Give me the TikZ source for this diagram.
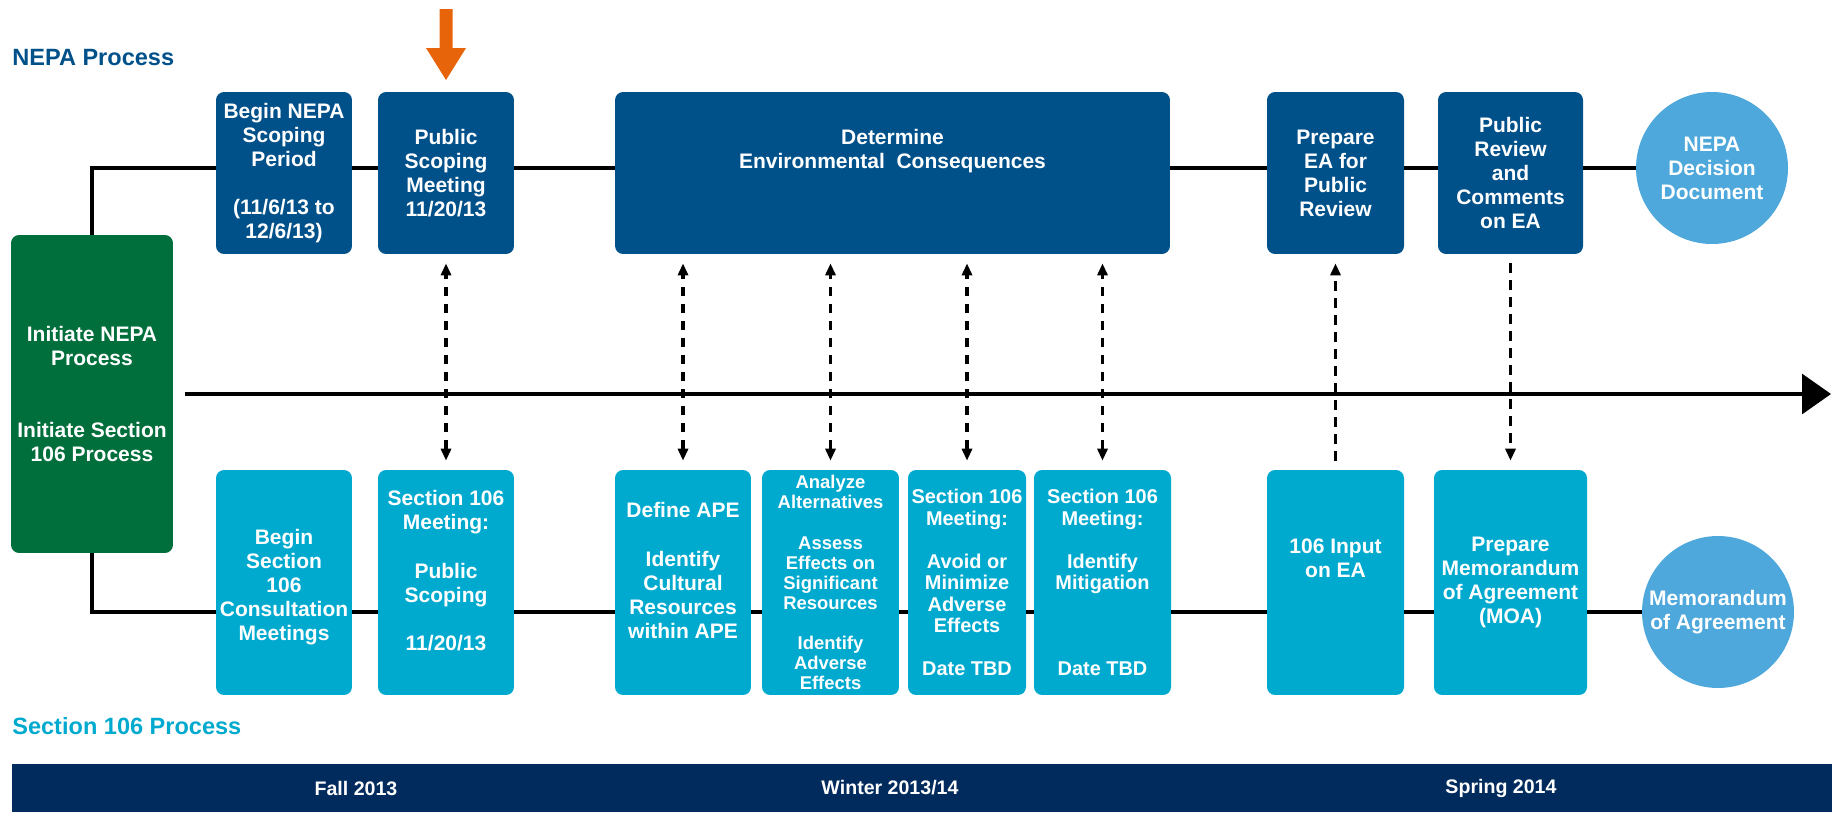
\documentclass[tikz,border=0pt]{standalone}
\usepackage{fontspec}
\setmainfont{Liberation Sans}
\usepackage{tikz}
\usetikzlibrary{arrows.meta}

\definecolor{nepablue}{HTML}{00508A}
\definecolor{sectcyan}{HTML}{00AACF}
\definecolor{endblue}{HTML}{4EA8DC}
\definecolor{initgreen}{HTML}{006F3C}
\definecolor{bardark}{HTML}{002B5C}
\definecolor{markorange}{HTML}{E8640A}

\newcommand{\bxfont}{\bfseries\fontsize{11.95}{13.7}\selectfont}
\newcommand{\bxmid}{\bfseries\fontsize{11.35}{12.2}\selectfont}
\newcommand{\bxsmall}{\bfseries\fontsize{10.5}{11.4}\selectfont}
\newcommand{\hdfont}{\bfseries\fontsize{13.4}{16}\selectfont}
\newcommand{\brfont}{\bfseries\fontsize{11.15}{13}\selectfont}

\tikzset{
  nepabox/.style={fill=nepablue, text=white, rounded corners=0.16cm, align=center,
    inner sep=0pt, minimum height=3.24cm, font=\bxfont},
  sectbox/.style={fill=sectcyan, text=white, rounded corners=0.16cm, align=center,
    inner sep=0pt, minimum height=4.5cm, font=\bxfont},
  endcirc/.style={circle, fill=endblue, text=white, align=center, inner sep=0pt,
    minimum size=3.04cm, font=\bxfont},
  procline/.style={line width=1.8pt},
  linkarrow/.style={line width=2.1pt, dash pattern=on 0.19cm off 0.15cm,
    shorten <=0.18cm, shorten >=0.18cm},
  tip/.tip={Triangle[length=0.24cm, width=0.2cm]}
}

\begin{document}
\begin{tikzpicture}[x=0.02cm, y=-0.02cm]
        \useasboundingbox (0,0) rectangle (1832,812);

        \node[anchor=west, inner sep=0pt, text=nepablue, font=\hdfont] (nepatitle) at (12,58) {NEPA Process};
        \node[anchor=west, inner sep=0pt, text=sectcyan, font=\hdfont] (secttitle) at (12,726) {Section 106 Process};

        % orange marker
        \fill[markorange] (439.5,9) -- (452.5,9) -- (452.5,48) -- (466,48) -- (446,80)
            -- (426,48) -- (439.5,48) -- cycle;

        \node[fill=initgreen, text=white, rounded corners=0.16cm, align=center, inner sep=0pt,
            minimum width=3.24cm, minimum height=6.36cm, font=\bxfont] (initbox) at (92,394)
            {Initiate NEPA\\Process\\[27.4pt]Initiate Section\\106 Process};

        % NEPA row
        \node[nepabox, minimum width=2.72cm] (nepascope) at (284,173)
            {Begin NEPA\\Scoping\\Period\\[13.7pt](11/6/13 to\\12/6/13)};
        \node[nepabox, minimum width=2.72cm] (pubscop) at (446,173)
            {Public\\Scoping\\Meeting\\11/20/13};
        \node[nepabox, minimum width=11.1cm] (envcons) at (892.5,173)
            {Determine\\Environmental\ \ Consequences\\[13.7pt]\mbox{}};
        \node[nepabox, minimum width=2.74cm] (prepea) at (1335.5,173)
            {Prepare\\EA for\\Public\\Review};
        \node[nepabox, minimum width=2.9cm] (pubrev) at (1510.5,173)
            {Public\\Review\\and\\Comments\\on EA};
        \node[endcirc] (nepadec) at (1712,168) {NEPA\\Decision\\Document};

        % Section 106 row
        \node[sectbox, minimum width=2.72cm] (beg106) at (284,582.5)
            {\mbox{}\\Begin\\Section\\106\\Consultation\\Meetings};
        \node[sectbox, minimum width=2.72cm] (sec106meet) at (446,582.5)
            {Section 106\\Meeting:\\[13.7pt]Public\\Scoping\\[13.7pt]11/20/13\\\mbox{}};
        \node[sectbox, minimum width=2.72cm] (defape) at (683,582.5)
            {Define APE\\[13.7pt]Identify\\Cultural\\Resources\\within APE\\\mbox{}};
        \node[sectbox, minimum width=2.74cm, font=\bxsmall] (analyze) at (830.5,582.5)
            {Analyze\\Alternatives\\[11.4pt]Assess\\Effects on\\Significant\\Resources\\[11.4pt]Identify\\Adverse\\Effects};
        \node[sectbox, minimum width=2.36cm, font=\bxmid] (avoid) at (967,582.5)
            {Section 106\\Meeting:\\[12.2pt]Avoid or\\Minimize\\Adverse\\Effects\\[12.2pt]Date TBD};
        \node[sectbox, minimum width=2.74cm, font=\bxmid] (mitig) at (1102.5,582.5)
            {Section 106\\Meeting:\\[12.2pt]Identify\\Mitigation\\[36.6pt]Date TBD};
        \node[sectbox, minimum width=2.74cm] (eainput) at (1335.5,582.5)
            {106 Input\\on EA\\[13.7pt]\mbox{}};
        \node[sectbox, minimum width=3.06cm] (moa) at (1510.5,582.5)
            {Prepare\\Memorandum\\of Agreement\\(MOA)};
        \node[endcirc] (moacirc) at (1718,612) {Memorandum\\of Agreement};

        % process lines
        \draw[procline] (initbox.north) |- (nepascope.west |- nepadec);
        \foreach \a/\b in {nepascope/pubscop, pubscop/envcons, envcons/prepea, prepea/pubrev, pubrev/nepadec}
            \draw[procline] (\a.east |- nepadec) -- (\b.west |- nepadec);
        \draw[procline] (initbox.south) |- (beg106.west |- moacirc);
        \foreach \a/\b in {beg106/sec106meet, sec106meet/defape, defape/analyze, analyze/avoid,
            avoid/mitig, mitig/eainput, eainput/moa, moa/moacirc}
            \draw[procline] (\a.east |- moacirc) -- (\b.west |- moacirc);

        % time line
        \coordinate (tstart) at (185,394);
        \coordinate (tend) at (1831,394);
        \draw[procline, -{Triangle[length=0.58cm, width=0.8cm]}] (tstart) -- (tend);

        % links between the two processes
        \foreach \lo/\up in {sec106meet/pubscop, defape/envcons, analyze/envcons, avoid/envcons, mitig/envcons}
            \draw[linkarrow, tip-tip] (\lo.north) -- (\lo.north |- \up.south);
        \draw[linkarrow, -tip] (eainput.north) -- (prepea.south);
        \draw[linkarrow, -tip] (pubrev.south) -- (moa.north);

        % seasons
        \fill[bardark] (12,764) rectangle (1832,812);
        \node[text=white, font=\brfont] (fall) at (356,788) {Fall 2013};
        \node[text=white, font=\brfont] (winter) at (890,788) {Winter 2013/14};
        \node[text=white, font=\brfont] (spring) at (1501,788) {Spring 2014};
\end{tikzpicture}
\end{document}
